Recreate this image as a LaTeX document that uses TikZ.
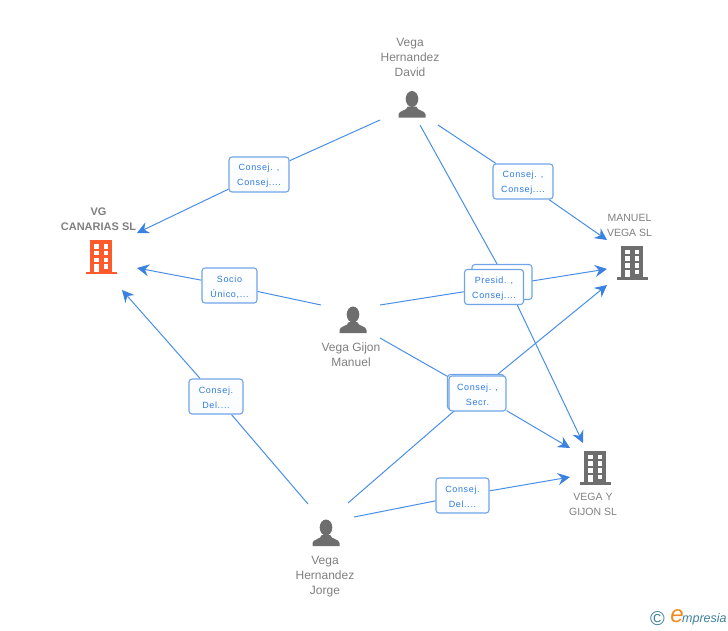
\documentclass[tikz,border=0pt]{standalone}
\usepackage{fontspec}
\setmainfont{Liberation Sans}
\usetikzlibrary{arrows.meta,backgrounds,calc}
\definecolor{linkblue}{HTML}{4A8FE7}
\definecolor{tipblue}{HTML}{3B82E0}
\definecolor{boxblue}{HTML}{6FA5E8}
\definecolor{textblue}{HTML}{2F7BE0}
\definecolor{icongrey}{HTML}{6E6E6E}
\definecolor{namegrey}{HTML}{7F7F7F}
\definecolor{vgorange}{HTML}{FF5A2C}
\definecolor{logoblue}{HTML}{3F7F9C}
\definecolor{logoorange}{HTML}{F28A1E}
\newcommand{\rolelines}[2]{\rule{0pt}{9.5pt}#1\\#2}
\tikzset{
  conn/.style={draw=linkblue, line width=1pt,
    -{Stealth[length=12pt,width=12pt,inset=4pt,color=tipblue]}},
  rolebox/.style={draw=boxblue, line width=1.1pt, rounded corners=3pt,
    top color=white, bottom color=white!96!boxblue,
    minimum height=35pt, inner sep=0pt, align=center, text=textblue,
    font=\fontsize{9}{15}\selectfont\addfontfeatures{LetterSpace=7}},
  personname/.style={text=namegrey, align=center, inner sep=0pt,
    font=\fontsize{12}{15}\selectfont},
  firmname/.style={text=namegrey, align=center, inner sep=0pt,
    font=\fontsize{10.5}{15}\selectfont},
  persona/.pic={
    \fill[icongrey] (-13.5,0) -- (-13.5,-3)
      .. controls (-13.5,-7) and (-5,-6.5) .. (-4.2,-11)
      -- (4.2,-11)
      .. controls (5,-6.5) and (13.5,-7) .. (13.5,-3) -- (13.5,0) -- cycle;
    \fill[icongrey] (0,-18.5) ellipse [x radius=6.3, y radius=8];
  },
  pics/firm/.style={code={
    \fill[#1] (-11,-2) rectangle (11,-34);
    \fill[#1] (-15.5,0) rectangle (15.5,-2.5);
    \foreach \wy in {-30,-23.5,-16.5} {
      \fill[white] (-7.2,\wy) rectangle +(4.8,4.6);
      \fill[white] (2.6,\wy) rectangle +(4.8,4.6);
    }
    \fill[white] (2.6,-10) rectangle +(4.8,4.6);
    \fill[white] (-7.2,-2.5) rectangle +(4.8,-7.5);
  }},
}
\begin{document}
\begin{tikzpicture}[x=1pt,y=-1pt]
  \useasboundingbox (0,0) rectangle (728,630);

  % people and firms, anchored at the foot of their icons
  \coordinate (david) at (412,117.5);
  \coordinate (gijon) at (353,333);
  \coordinate (jorge) at (326,546);
  \coordinate (vg) at (101,274);
  \coordinate (manuel) at (632,279.5);
  \coordinate (vegay) at (595,484.5);
  \pic at (david) {persona};
  \pic at (gijon) {persona};
  \pic at (jorge) {persona};
  \pic at (vg) {firm=vgorange};
  \pic at (manuel) {firm=icongrey};
  \pic at (vegay) {firm=icongrey};

  \node[personname] (davidname) at (410,57) {Vega\\Hernandez\\David};
  \node[personname] (gijonname) at (351,354.5) {Vega Gijon\\Manuel};
  \node[personname] (jorgename) at (325,577) {Vega\\Hernandez\\Jorge};
  \node[firmname, font=\fontsize{11}{15}\selectfont\bfseries] (vgname) at (98.5,219.5) {VG\\CANARIAS SL};
  \node[firmname] (manuelname) at (629.5,225.5) {MANUEL\\VEGA SL};
  \node[firmname] (vegayname) at (593,504.5) {VEGA Y\\GIJON SL};

  % role boxes
  \node[rolebox, minimum width=60pt] (boxa) at (259,174.5) {\rolelines{Consej. ,}{Consej....}};
  \node[rolebox, minimum width=55pt] (boxb) at (229.5,285.5) {\rolelines{Socio}{Único,...}};
  \node[rolebox, minimum width=54pt] (boxc) at (216,396.5) {\rolelines{Consej.}{Del....}};
  \node[rolebox, minimum width=60pt] (boxd) at (523,181.5) {\rolelines{Consej. ,}{Consej....}};
  \node[rolebox, minimum width=60pt] (boxe) at (502,282) {};
  \node[rolebox, minimum width=59pt] (boxf) at (494,287) {\rolelines{Presid. ,}{Consej....}};
  \node[rolebox, minimum width=57pt] (boxg) at (476,392) {};
  \node[rolebox, minimum width=57pt] (boxh) at (477.5,393.5) {\rolelines{Consej. ,}{Secr.}};
  \node[rolebox, minimum width=53pt] (boxi) at (462.5,495.5) {\rolelines{Consej.}{Del....}};

  \begin{scope}[on background layer]
    \draw[conn] ($(david)+(-32,2.5)$) -- (boxa) -- ($(vg)+(36,-41)$);
    \draw[conn] ($(gijon)+(-32,-28)$) -- (boxb) -- ($(vg)+(36,-6)$);
    \draw[conn] ($(jorge)+(-18,-42)$) -- (boxc) -- ($(vg)+(21,16)$);
    \draw[conn] ($(david)+(26,7.5)$) -- (boxd) -- ($(manuel)+(-25,-39.5)$);
    \draw[conn] ($(david)+(8,7.5)$) -- ($(boxe)+(0,-9)$) -- ($(vegay)+(-12,-41.5)$);
    \draw[conn] ($(gijon)+(27,-28)$) -- (boxf) -- ($(manuel)+(-25,-10.5)$);
    \draw[conn] ($(gijon)+(27,5)$) -- (boxh) -- ($(vegay)+(-25,-36.5)$);
    \draw[conn] ($(jorge)+(22,-43)$) -- (boxg) -- ($(manuel)+(-25,5.5)$);
    \draw[conn] ($(jorge)+(28,-29)$) -- (boxi) -- ($(vegay)+(-25,-7.5)$);
  \end{scope}

  % logo
  \node[text=logoblue, inner sep=0pt, font=\fontsize{20}{20}\selectfont] (logoc) at (657.5,618.5) {©};
  \node[text=logoorange, inner sep=0pt, font=\fontsize{24}{24}\selectfont\itshape] (logoe) at (677,616) {e};
  \node[text=logoblue, inner sep=0pt, anchor=west, font=\fontsize{12.5}{12.5}\selectfont\itshape] (logotext) at (682,619) {mpresia};
\end{tikzpicture}
\end{document}
